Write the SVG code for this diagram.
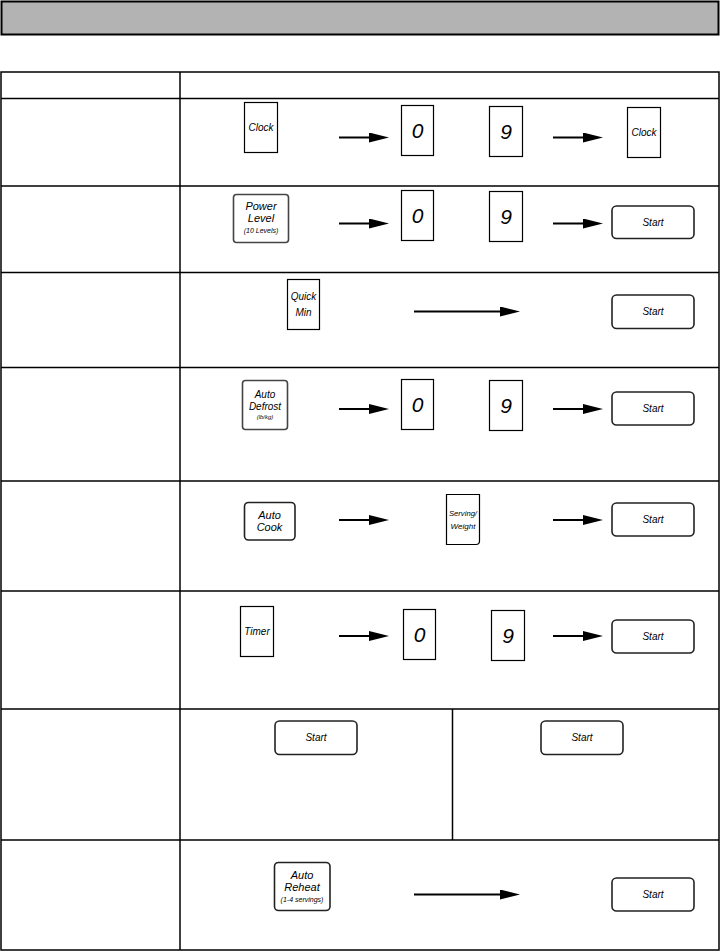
<svg xmlns="http://www.w3.org/2000/svg" width="720" height="951" viewBox="0 0 720 951">
<style>
.grid{stroke:#000;stroke-width:1.5;fill:none}
.key{fill:#fff;stroke:#000;stroke-width:1.2}
.rkey{fill:#fff;stroke:#444;stroke-width:1.6}
.start{fill:#fff;stroke:#222;stroke-width:1.6}
.t{font-family:"Liberation Sans",Arial,sans-serif;font-style:italic;text-anchor:middle;dominant-baseline:central;fill:#000}
.s10{font-size:10px}
.s11{font-size:11px}
.s7{font-size:7px}
.s6{font-size:6px}
.s8{font-size:8px}
.dig{font-size:21px}
.arrow{stroke:#000;stroke-width:2;fill:none;marker-end:url(#ah)}
</style>
<defs>
<marker id="ah" markerUnits="userSpaceOnUse" markerWidth="20" markerHeight="10" refX="5" refY="5" orient="auto">
<path d="M0,0 L20,5 L0,10 z" fill="#000"/>
</marker>
</defs>
<rect width="720" height="951" fill="#fff"/>
<rect x="1.5" y="1.5" width="717" height="33" fill="#b3b3b3" stroke="#000" stroke-width="2"/>
<g id="table" class="grid">
<rect x="1" y="72" width="718" height="878"/>
<line x1="180" y1="72" x2="180" y2="950"/>
<line x1="1" y1="98.5" x2="719" y2="98.5"/>
<line x1="1" y1="186" x2="719" y2="186"/>
<line x1="1" y1="272.5" x2="719" y2="272.5"/>
<line x1="1" y1="367.5" x2="719" y2="367.5"/>
<line x1="1" y1="481" x2="719" y2="481"/>
<line x1="1" y1="591" x2="719" y2="591"/>
<line x1="1" y1="709" x2="719" y2="709"/>
<line x1="1" y1="840" x2="719" y2="840"/>
<line x1="452.5" y1="709" x2="452.5" y2="840"/>
</g>
<g id="connectors">
<line class="arrow" x1="339" y1="137.5" x2="374" y2="137.5"/>
<line class="arrow" x1="553" y1="137.5" x2="588" y2="137.5"/>
<line class="arrow" x1="339" y1="223.5" x2="374" y2="223.5"/>
<line class="arrow" x1="553" y1="223.5" x2="588" y2="223.5"/>
<line class="arrow" x1="414" y1="311.5" x2="505" y2="311.5"/>
<line class="arrow" x1="339" y1="409" x2="374" y2="409"/>
<line class="arrow" x1="553" y1="409" x2="588" y2="409"/>
<line class="arrow" x1="339" y1="520" x2="374" y2="520"/>
<line class="arrow" x1="553" y1="520" x2="588" y2="520"/>
<line class="arrow" x1="339" y1="636" x2="374" y2="636"/>
<line class="arrow" x1="553" y1="636" x2="588" y2="636"/>
<line class="arrow" x1="414" y1="894.5" x2="505" y2="894.5"/>
</g>
<g id="r1-clock"><rect class="key" x="244.5" y="102.5" width="33" height="50"/><text class="t s10" x="261" y="127">Clock</text></g>
<g id="r1-0"><rect class="key" x="401.5" y="105.5" width="32" height="50"/><text class="t dig" x="417.5" y="130.5">0</text></g>
<g id="r1-9"><rect class="key" x="489.5" y="106.5" width="33" height="50"/><text class="t dig" x="506" y="131.5">9</text></g>
<g id="r1-clock2"><rect class="key" x="627.5" y="107.5" width="33" height="50"/><text class="t s10" x="644" y="132.5">Clock</text></g>

<g id="r2-power"><rect class="rkey" x="233.5" y="194.5" width="55" height="48" rx="3"/><text class="t s11" x="261" y="206">Power</text><text class="t s11" x="261" y="218">Level</text><text class="t s7" x="261" y="230">(10 Levels)</text></g>
<g id="r2-0"><rect class="key" x="401.5" y="190.5" width="32" height="50"/><text class="t dig" x="417.5" y="215.5">0</text></g>
<g id="r2-9"><rect class="key" x="489.5" y="191.5" width="33" height="50"/><text class="t dig" x="506" y="216.5">9</text></g>
<g id="r2-start"><rect class="start" x="612" y="206" width="82" height="32.5" rx="4.5"/><text class="t s10" x="653" y="222">Start</text></g>

<g id="r3-quick"><rect class="key" x="287.5" y="279.5" width="32" height="50"/><text class="t s10" x="303.5" y="296">Quick</text><text class="t s10" x="303.5" y="312">Min</text></g>
<g id="r3-start"><rect class="start" x="612" y="295" width="82" height="33.5" rx="4.5"/><text class="t s10" x="653" y="311.5">Start</text></g>

<g id="r4-defrost"><rect class="rkey" x="242.5" y="380.5" width="45" height="49" rx="3"/><text class="t s10" x="265" y="394">Auto</text><text class="t s10" x="265" y="406">Defrost</text><text class="t s6" x="265" y="417">(lb/kg)</text></g>
<g id="r4-0"><rect class="key" x="401.5" y="379.5" width="32" height="50"/><text class="t dig" x="417.5" y="404.5">0</text></g>
<g id="r4-9"><rect class="key" x="489.5" y="380.5" width="33" height="50"/><text class="t dig" x="506" y="405.5">9</text></g>
<g id="r4-start"><rect class="start" x="612" y="392" width="82" height="33" rx="4.5"/><text class="t s10" x="653" y="408.5">Start</text></g>

<g id="r5-autocook"><rect class="start" x="244.5" y="502.5" width="50.5" height="37.5" rx="4"/><text class="t s11" x="269.5" y="515">Auto</text><text class="t s11" x="269.5" y="527">Cook</text></g>
<g id="r5-serving"><path class="key" d="M446.5,494.5 H479.5 V541 Q479.5,544.5 476,544.5 H446.5 Z"/><text class="t s8" x="463" y="513.5" textLength="28" lengthAdjust="spacingAndGlyphs">Serving/</text><text class="t s8" x="463" y="526">Weight</text></g>
<g id="r5-start"><rect class="start" x="612" y="503" width="82" height="33" rx="4.5"/><text class="t s10" x="653" y="519.5">Start</text></g>

<g id="r6-timer"><rect class="key" x="240.5" y="606.5" width="33" height="50"/><text class="t s10" x="257" y="631">Timer</text></g>
<g id="r6-0"><rect class="key" x="403.5" y="609.5" width="32" height="50"/><text class="t dig" x="419.5" y="634.5">0</text></g>
<g id="r6-9"><rect class="key" x="491.5" y="610.5" width="33" height="50"/><text class="t dig" x="508" y="635.5">9</text></g>
<g id="r6-start"><rect class="start" x="612" y="620" width="82" height="33" rx="4.5"/><text class="t s10" x="653" y="636.5">Start</text></g>

<g id="r7-start1"><rect class="start" x="275" y="721" width="82" height="33.5" rx="4.5"/><text class="t s10" x="316" y="737.5">Start</text></g>
<g id="r7-start2"><rect class="start" x="541" y="721" width="82" height="33.5" rx="4.5"/><text class="t s10" x="582" y="737.5">Start</text></g>

<g id="r8-reheat"><rect class="start" x="274.5" y="862.5" width="55.5" height="48" rx="4"/><text class="t s11" x="302" y="874.5">Auto</text><text class="t s11" x="302" y="887">Reheat</text><text class="t s7" x="302" y="899.5">(1-4 servings)</text></g>
<g id="r8-start"><rect class="start" x="612" y="878" width="82" height="33" rx="4.5"/><text class="t s10" x="653" y="894.5">Start</text></g>
</svg>
